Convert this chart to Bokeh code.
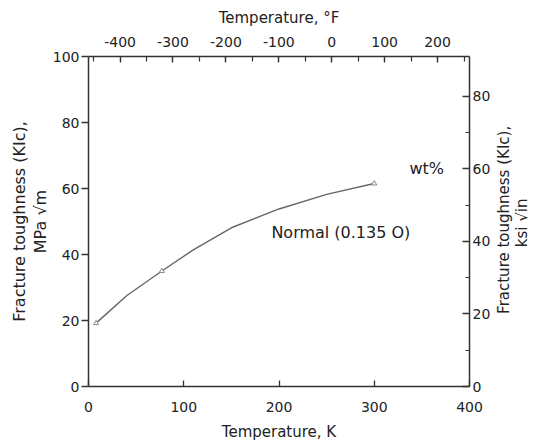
from bokeh.plotting import figure
from bokeh.models import LinearAxis, Range1d, FixedTicker, Label
from bokeh.embed import file_html
from bokeh.resources import INLINE

# data
temp_K = [8, 40, 77, 110, 150, 200, 250, 300]
kic_mpa = [19.2, 27.5, 35.0, 41.4, 48.1, 53.8, 58.2, 61.5]
marker_K = [8, 77, 300]
marker_mpa = [19.2, 35.0, 61.5]

bottom_ticks = [0, 100, 200, 300, 400]
left_ticks = [0, 20, 40, 60, 80, 100]
right_ticks = [0, 20, 40, 60, 80]
top_ticks = [-400, -300, -200, -100, 0, 100, 200]
top_tick_labels = ["-400", "-300", "-200", "-100", "0", "100", "200"]

right_title = "Fracture toughness (KIc),\n" + "\u00a0" * 14 + "ksi \u221ain"
right_title_at = 22  # where the rotated right-hand title starts (MPa scale)

K_MIN, K_MAX = 0, 400
MPA_MAX = 100
KSI_PER_MPA = 1 / 1.0988

FONT = "DejaVu Sans"
TXT = "#222222"
AX = "#333333"

p = figure(frame_width=381, frame_height=330,
           min_border_left=88, min_border_right=40,
           min_border_top=56, min_border_bottom=56,
           x_range=Range1d(K_MIN, K_MAX), y_range=Range1d(0, MPA_MAX),
           output_backend="svg", toolbar_location=None)
p.outline_line_color = None
p.grid.visible = False
p.background_fill_color = "white"
p.border_fill_color = "white"

p.extra_x_ranges = {"F": Range1d(K_MIN * 1.8 - 459.67, K_MAX * 1.8 - 459.67)}
p.extra_y_ranges = {"ksi": Range1d(0, MPA_MAX * KSI_PER_MPA)}


def style(ax, label, size="15px"):
    ax.axis_label = label
    ax.axis_label_text_font = FONT
    ax.axis_label_text_font_size = size
    ax.axis_label_text_font_style = "normal"
    ax.axis_label_text_color = TXT
    ax.major_label_text_font = FONT
    ax.major_label_text_font_size = "14px"
    ax.major_label_text_color = TXT
    ax.axis_line_color = AX
    ax.axis_line_width = 1.5
    ax.major_tick_line_color = AX
    ax.major_tick_line_width = 1.3
    ax.minor_tick_line_color = AX
    ax.minor_tick_line_width = 1.2


# bottom axis (K)
xb = p.xaxis[0]
style(xb, "Temperature, K")
xb.ticker = FixedTicker(ticks=bottom_ticks)
xb.major_tick_in = 6
xb.major_tick_out = 0
xb.minor_tick_line_color = None
xb.major_label_standoff = 15
xb.axis_label_standoff = 8

# left axis (MPa)
yl = p.yaxis[0]
style(yl, "Fracture toughness (KIc),\nMPa \u221am", "16px")
yl.ticker = FixedTicker(ticks=left_ticks)
yl.major_tick_in = 0
yl.major_tick_out = 7
yl.minor_tick_line_color = None
yl.major_label_standoff = 2
yl.axis_label_standoff = 0
yl.axis_label_text_line_height = 1.1

# top axis (F)
xt = LinearAxis(x_range_name="F")
style(xt, "Temperature, \u00b0F")
xt.ticker = FixedTicker(ticks=top_ticks, minor_ticks=list(range(-450, 251, 50)))
xt.major_label_overrides = dict(zip(top_ticks, top_tick_labels))
xt.major_tick_in = 6
xt.major_tick_out = 0
xt.minor_tick_in = 5
xt.minor_tick_out = 0
xt.major_label_standoff = 10
xt.axis_label_standoff = 7
p.add_layout(xt, "above")

# right axis (ksi)
yr = LinearAxis(y_range_name="ksi")
style(yr, None)
yr.ticker = FixedTicker(ticks=right_ticks, minor_ticks=[10, 30, 50, 70])
yr.major_tick_in = 7
yr.major_tick_out = 0
yr.minor_tick_in = 4
yr.minor_tick_out = 0
yr.major_label_standoff = 3
p.add_layout(yr, "right")

# right-hand title, reading bottom-to-top like the reference
yt = LinearAxis()
style(yt, None)
yt.ticker = FixedTicker(ticks=[right_title_at])
yt.major_label_overrides = {right_title_at: right_title}
yt.major_label_orientation = 1.5707963
yt.major_label_text_font_size = "15px"
yt.major_label_text_line_height = 1.0
yt.major_label_standoff = 14
yt.axis_line_color = None
yt.major_tick_line_color = None
yt.minor_tick_line_color = None
p.add_layout(yt, "right")

# curve
p.line(temp_K, kic_mpa, line_color="#666666", line_width=1.4)
p.scatter(marker_K, marker_mpa, marker="triangle", size=5,
          line_color="#888888", fill_color="white", line_width=1)

p.add_layout(Label(x=192, y=46.7, text="Normal (0.135 O)", text_font=FONT,
                   text_font_size="16px", text_color=TXT, text_baseline="middle"))
p.add_layout(Label(x=337, y=66, text="wt%", text_font=FONT,
                   text_font_size="16px", text_color=TXT, text_baseline="middle"))

open("out.html", "w").write(file_html(p, INLINE))
